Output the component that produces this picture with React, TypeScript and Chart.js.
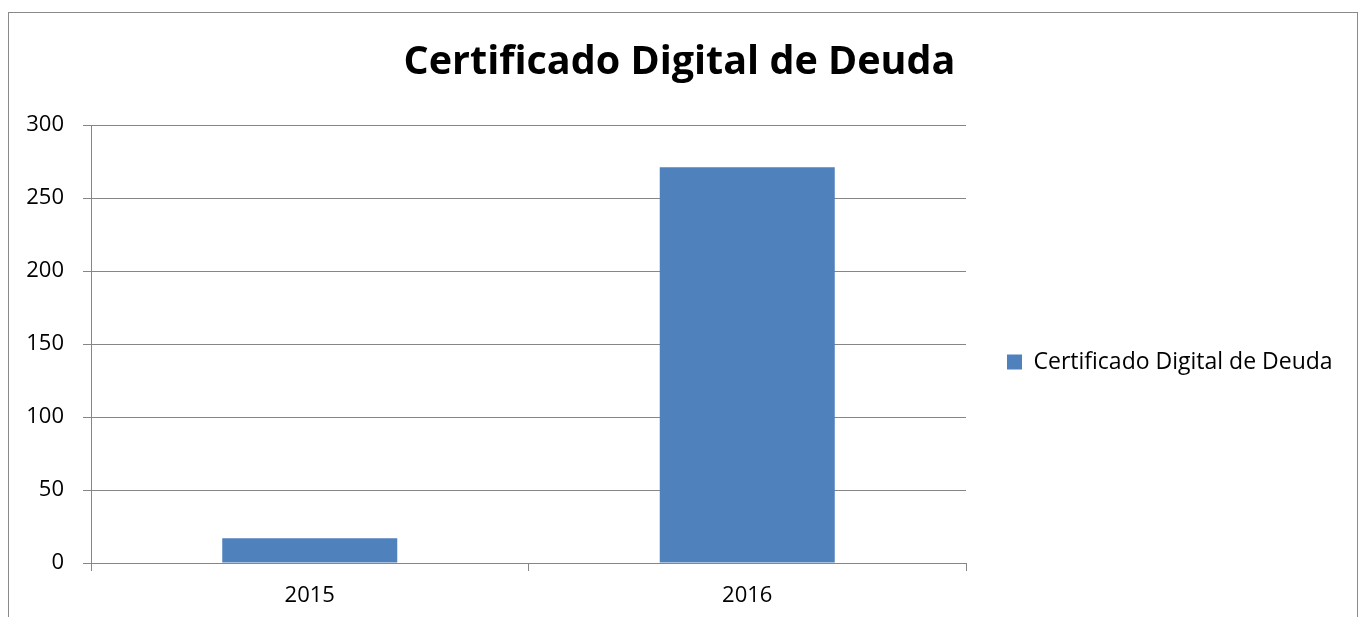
import React, { useEffect, useRef } from "react";
import { Chart, registerables } from "chart.js";

Chart.register(...registerables);

const chartTitle = "Certificado Digital de Deuda";
const seriesName = "Certificado Digital de Deuda";
const categories = ["2015", "2016"];
const values = [17, 271];
const yMin = 0;
const yMax = 300;
const yStep = 50;

const W = 1359;
const H = 724;
const FONT = "'Open Sans'";

const framePlugin = {
  id: "frame",
  beforeLayout(chart: any) {
    const lg = chart.legend;
    if (lg && !lg._fixedWidth) {
      const orig = lg.fit.bind(lg);
      lg.fit = function () {
        orig();
        this.width = 393;
      };
      lg._fixedWidth = true;
    }
  },
  beforeDraw(chart: any) {
    const ctx = chart.ctx;
    ctx.save();
    ctx.strokeStyle = "#8a8a8a";
    ctx.lineWidth = 1;
    ctx.strokeRect(8.5, 12.5, 1349, 900);
    ctx.restore();
  },
};

export default function App() {
  const ref = useRef<HTMLCanvasElement>(null);
  useEffect(() => {
    if (!ref.current) return;
    const gray = "#868686";
    const chart = new Chart(ref.current, {
      type: "bar",
      data: {
        labels: categories,
        datasets: [
          {
            label: seriesName,
            data: values,
            backgroundColor: "#4F81BD",
            borderWidth: 0,
            barPercentage: 0.4,
            categoryPercentage: 1.0,
          },
        ],
      },
      options: {
        responsive: false,
        animation: false,
        devicePixelRatio: 1,
        font: { family: FONT },
        layout: { padding: 0 },
        plugins: {
          title: {
            display: true,
            text: chartTitle,
            color: "#000",
            font: { family: FONT, size: 39.5, weight: "bold" },
            padding: { top: 38.8, bottom: 38.8 },
          },
          legend: {
            display: true,
            position: "right",
            labels: {
              color: "#000",
              font: { family: FONT, size: 23 },
              boxWidth: 15,
              boxHeight: 15,
              padding: 41,
            },
          },
          tooltip: { enabled: false },
        },
        scales: {
          x: {
            offset: true,
            grid: {
              offset: true,
              drawOnChartArea: false,
              drawTicks: true,
              tickLength: 8,
              color: gray,
            },
            border: { color: gray, width: 1 },
            ticks: { color: "#000", font: { family: FONT, size: 22 }, padding: 12 },
            afterFit(scale: any) {
              scale.height = 161;
            },
          },
          y: {
            min: yMin,
            max: yMax,
            ticks: {
              stepSize: yStep,
              color: "#000",
              font: { family: FONT, size: 22 },
              padding: 19,
            },
            grid: { color: gray, tickLength: 8, drawTicks: true },
            border: { color: gray, width: 1 },
            afterFit(scale: any) {
              scale.width = 91;
            },
          },
        },
      },
      plugins: [framePlugin],
    } as any);
    return () => chart.destroy();
  }, []);
  return (
    <div
      style={{
        position: "fixed",
        left: 0,
        top: 0,
        width: W,
        height: 617,
        overflow: "hidden",
        background: "#fff",
      }}
    >
      <canvas ref={ref} width={W} height={H} style={{ display: "block" }} />
    </div>
  );
}
